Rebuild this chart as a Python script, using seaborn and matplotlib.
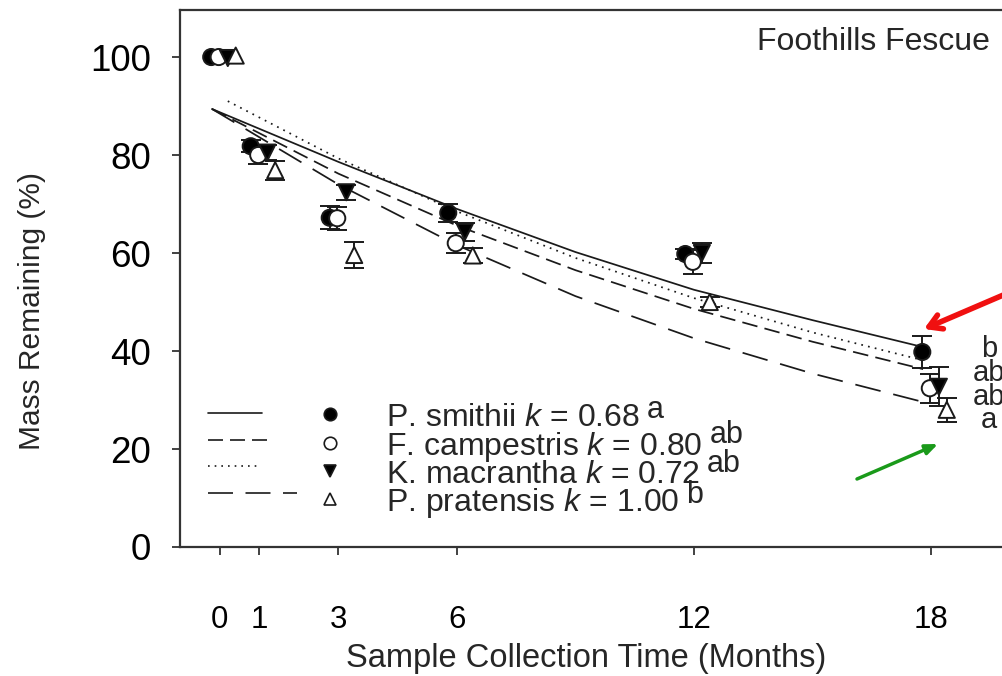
import matplotlib
matplotlib.use("Agg")
import matplotlib.pyplot as plt
import seaborn as sns
import numpy as np
import pandas as pd

# ---------------- data ----------------
months = [0, 1, 3, 6, 12, 18]
species = ["P. smithii", "F. campestris", "K. macrantha", "P. pratensis"]

smithii = [100.0, 81.8, 67.2, 68.2, 59.8, 39.8]
smithii_err = [0.0, 1.2, 2.3, 1.9, 1.0, 3.3]
campestris = [100.0, 80.0, 67.1, 62.0, 58.2, 32.4]
campestris_err = [0.0, 1.8, 2.3, 2.0, 2.5, 3.0]
macrantha = [99.8, 80.5, 72.4, 64.3, 60.0, 32.7]
macrantha_err = [0.0, 1.5, 1.5, 1.8, 2.0, 4.0]
pratensis = [100.3, 76.9, 59.6, 59.5, 50.0, 28.0]
pratensis_err = [0.0, 1.9, 2.7, 1.5, 1.0, 2.4]

# fitted decay curves, read at several months
curve_t_smithii = [-0.2, 3, 6, 9, 12, 15, 17.8]
curve_y_smithii = [89.4, 78.6, 69.0, 60.2, 52.5, 46.3, 40.8]
curve_t_campestris = [-0.2, 3, 6, 9, 12, 15, 17.8]
curve_y_campestris = [89.4, 76.2, 65.6, 56.5, 48.6, 41.9, 36.3]
curve_t_macrantha = [0.2, 3, 6, 9, 12, 15, 17.8]
curve_y_macrantha = [91.0, 79.3, 68.5, 59.0, 50.8, 43.8, 38.1]
curve_t_pratensis = [-0.2, 3, 6, 9, 12, 15, 17.8]
curve_y_pratensis = [89.4, 74.0, 61.6, 51.2, 42.6, 35.4, 29.6]

k_values = ["0.68", "0.80", "0.72", "1.00"]
legend_letters = ["a", "ab", "ab", "b"]
end_letters = ["b", "ab", "ab", "a"]
panel_title = "Foothills Fescue"
x_ticks = [0, 1, 3, 6, 12, 18]
y_ticks = [0, 20, 40, 60, 80, 100]

# ---------------- styles ----------------
dodge = {"P. smithii": -0.22, "F. campestris": -0.03, "K. macrantha": 0.2, "P. pratensis": 0.4}
markers = {"P. smithii": "o", "F. campestris": "o", "K. macrantha": "v", "P. pratensis": "^"}
faces = {"P. smithii": "black", "F. campestris": "white", "K. macrantha": "black", "P. pratensis": "white"}
dashes = {"P. smithii": "", "F. campestris": (9, 4.2), "K. macrantha": (1, 3), "P. pratensis": (15, 7.5)}

vals = {"P. smithii": (smithii, smithii_err), "F. campestris": (campestris, campestris_err),
        "K. macrantha": (macrantha, macrantha_err), "P. pratensis": (pratensis, pratensis_err)}
curves = {"P. smithii": (curve_t_smithii, curve_y_smithii),
          "F. campestris": (curve_t_campestris, curve_y_campestris),
          "K. macrantha": (curve_t_macrantha, curve_y_macrantha),
          "P. pratensis": (curve_t_pratensis, curve_y_pratensis)}

rows = []
for sp in species:
    y, e = vals[sp]
    for m, yy, ee in zip(months, y, e):
        rows.append({"species": sp, "month": m, "pos": m + dodge[sp], "mass": yy, "err": ee})
pts = pd.DataFrame(rows)

crow = []
for sp in species:
    t, y = curves[sp]
    for tt, yy in zip(t, y):
        crow.append({"species": sp, "t": tt, "mass": yy})
cdf = pd.DataFrame(crow)

sns.set_theme(style="ticks")
plt.rcParams["font.family"] = ["Liberation Sans", "DejaVu Sans"]
plt.rcParams["mathtext.fontset"] = "custom"
plt.rcParams["mathtext.rm"] = "Liberation Sans"
plt.rcParams["mathtext.it"] = "Liberation Sans:italic"

W, H = 1002, 676
fig = plt.figure(figsize=(W / 100, H / 100), dpi=100)
# axes box in pixels: left 180, right 1010, top 10, bottom 547
L, R, T, B = 180, 1010, 10, 547
ax = fig.add_axes([L / W, (H - B) / H, (R - L) / W, (B - T) / H])

def fx(px):
    return (px - L) / (R - L)

def fy(py):
    return (B - py) / (B - T)

ink = "#1a1a1a"

# curves
sns.lineplot(data=cdf, x="t", y="mass", style="species", dashes=dashes, hue="species",
             palette={sp: ink for sp in species}, estimator=None, sort=True,
             linewidth=1.25, legend=False, ax=ax, zorder=2)

# error bars
for sp in species:
    d = pts[pts.species == sp]
    d = d[d.err > 0]
    ax.errorbar(d["pos"], d["mass"], yerr=d["err"], fmt="none", ecolor=ink,
                elinewidth=1.4, capsize=7.5, capthick=1.4, zorder=3)

# points
sns.scatterplot(data=pts, x="pos", y="mass", hue="species", style="species",
                markers=markers, palette=faces, edgecolor=ink, linewidth=1.4,
                s=135, legend=False, ax=ax, zorder=4)

ax.set_xlim(-1.01, 20)
ax.set_ylim(0, 109.6)
ax.set_xticks(x_ticks)
ax.set_xticklabels([str(v) for v in x_ticks])
ax.set_yticks(y_ticks)
ax.set_yticklabels([str(v) for v in y_ticks])

for s in ["left", "bottom", "top"]:
    ax.spines[s].set_linewidth(1.6)
    ax.spines[s].set_color("#333333")
ax.spines["right"].set_visible(False)

ax.tick_params(axis="x", direction="out", length=6, width=1.3, color="#333333",
               pad=36, labelsize=22.5, labelcolor="black")
ax.tick_params(axis="y", direction="out", length=6, width=1.3, color="#333333",
               pad=15, labelsize=26.5, labelcolor="black")

ax.set_xlabel("Sample Collection Time (Months)", fontsize=23.5, labelpad=0)
ax.set_ylabel("Mass Remaining (%)", fontsize=21.5, labelpad=8)
ax.xaxis.set_label_coords(fx(586), fy(658), transform=ax.transAxes)
ax.yaxis.set_label_coords(fx(32), fy(311), transform=ax.transAxes)
ax.xaxis.label.set_va("center")
ax.yaxis.label.set_va("center")

ax.text(fx(990), fy(42), panel_title, transform=ax.transAxes, ha="right", va="center",
        fontsize=23)

# ---------------- manual legend ----------------
text_y = [418, 447, 475, 503]
sample_y = [413, 440, 466, 493]
marker_y = [414, 443, 471, 499]
sup_raise = [8, 12, 11, 8]
sample_ends = [262, 268, 260, 297]
for i, sp in enumerate(species):
    ly = fy(sample_y[i])
    ax.plot([fx(208), fx(sample_ends[i])], [ly, ly], transform=ax.transAxes, color=ink,
            linewidth=1.2, dashes=dashes[sp] if dashes[sp] else (None, None),
            linestyle="-" if not dashes[sp] else "--", clip_on=False)
    ax.plot([fx(330)], [fy(marker_y[i])], transform=ax.transAxes, marker=markers[sp],
            markersize=9, markerfacecolor=faces[sp], markeredgecolor=ink,
            markeredgewidth=1.2, linestyle="none", clip_on=False)

fig.canvas.draw()
renderer = fig.canvas.get_renderer()
for i, sp in enumerate(species):
    t = ax.text(fx(386), fy(text_y[i]), f"{sp} $k$ = {k_values[i]}", transform=ax.transAxes,
                ha="left", va="center", fontsize=23)
    bb = t.get_window_extent(renderer=renderer)
    x_end = bb.x1 + 7
    y_mid = (bb.y0 + bb.y1) / 2 + sup_raise[i]
    fig.text(x_end / W, y_mid / H, legend_letters[i], ha="left", va="center", fontsize=22)

# significance letters at 18 months
end_y = [349, 373, 397, 420]
for lab, py in zip(end_letters, end_y):
    ax.text(fx(989), fy(py), lab, transform=ax.transAxes, ha="center", va="center",
            fontsize=21)

# arrows
ax.annotate("", xy=(fx(924), fy(329)), xytext=(fx(1015), fy(290)),
            xycoords="axes fraction", textcoords="axes fraction",
            arrowprops=dict(arrowstyle="->,head_length=0.75,head_width=0.45", color="#f01010",
                            lw=4, shrinkA=0, shrinkB=0), annotation_clip=False)
ax.annotate("", xy=(fx(938), fy(444)), xytext=(fx(857), fy(479)),
            xycoords="axes fraction", textcoords="axes fraction",
            arrowprops=dict(arrowstyle="-|>,head_length=0.6,head_width=0.25", color="#1a9a1a",
                            lw=2.5, shrinkA=0, shrinkB=0), annotation_clip=False)

fig.savefig("out.png", dpi=100, facecolor="white")
